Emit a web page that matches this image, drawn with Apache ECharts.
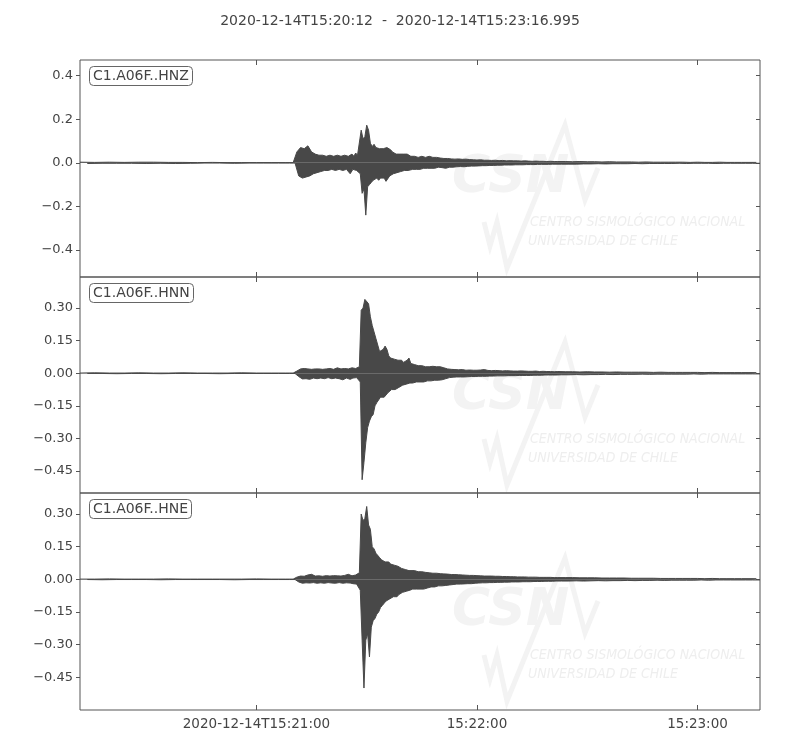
<!DOCTYPE html>
<html><head><meta charset="utf-8">
<script src="https://cdn.jsdelivr.net/npm/echarts@6/dist/echarts.min.js"></script>
<style>html,body{margin:0;padding:0;background:#fff}#c{width:800px;height:750px}</style>
</head><body><div id="c"></div>
<script>
// ---------- data ----------
const titleText = '2020-12-14T15:20:12  -  2020-12-14T15:23:16.995';
const traceNames = ['C1.A06F..HNZ', 'C1.A06F..HNN', 'C1.A06F..HNE'];
const xMax = 184.995;                       // seconds after 15:20:12
const xTickValues = [48, 108, 168];
const xTickLabels = ['2020-12-14T15:21:00', '15:22:00', '15:23:00'];
const yTicksHNZ = [-0.4, -0.2, 0, 0.2, 0.4];
const yTicksHNN = [-0.45, -0.30, -0.15, 0, 0.15, 0.30];
const yTicksHNE = [-0.45, -0.30, -0.15, 0, 0.15, 0.30];
const yRangeHNZ = [-0.524, 0.472];
const yRangeHNN = [-0.551, 0.443];
const yRangeHNE = [-0.601, 0.397];

// sample times (s after start)
const tSec = [
  0,4,8,12,16,20,24,28,32,36,40,44,48,52,56,58,
  59,60,61,62,63,64,65,66,67,68,69,70,71,72,73,74,
  74.5,75,75.5,76,76.5,77,77.5,78,78.5,79,79.5,80,80.5,81,81.5,82,82.5,83,83.5,84,84.5,85,85.5,86,86.5,87,87.5,88,88.5,89,89.5,
  90,91,92,93,94,95,96,97,98,99,100,101,102,103,104,105,106,107,108,109,110,111,112,113,114,115,116,117,118,119,120,121,122,123,124,125,126,127,128,129,130,
  132,134,136,138,140,142,144,146,148,150,152,154,156,158,160,162,164,166,168,170,172,174,176,178,180,182,184
];

// upper / lower envelope values
const hnzUpper = [
  0.003,0.002,0.003,0.002,0.003,0.003,0.002,0.002,0.001,0.002,0.001,0.001,0.001,0.001,0.001,0.001,
  0.05,0.07,0.065,0.078,0.05,0.04,0.035,0.035,0.03,0.035,0.03,0.035,0.03,0.035,0.03,0.04,
  0.03,0.045,0.035,0.04,0.15,0.11,0.12,0.173,0.15,0.09,0.075,0.085,0.07,0.075,0.065,0.07,0.065,0.065,0.07,0.075,0.06,0.05,0.045,0.04,0.045,0.04,0.035,0.04,0.035,0.04,0.035,
  0.03,0.03,0.025,0.03,0.025,0.03,0.025,0.025,0.022,0.02,0.02,0.018,0.017,0.018,0.016,0.017,0.015,0.014,0.013,0.014,0.012,0.012,0.011,0.012,0.01,0.011,0.009,0.01,0.009,0.009,0.008,0.009,0.008,0.007,0.008,0.007,0.007,0.006,0.007,0.006,0.006,
  0.006,0.005,0.006,0.005,0.005,0.004,0.005,0.004,0.004,0.004,0.003,0.004,0.003,0.003,0.003,0.003,0.003,0.002,0.003,0.002,0.002,0.003,0.002,0.002,0.002,0.002,0.002
];
const hnzLower = [
  -0.003,-0.002,-0.002,-0.002,-0.003,-0.002,-0.003,-0.002,-0.001,-0.001,-0.002,-0.001,-0.001,-0.001,-0.001,-0.001,
  -0.06,-0.07,-0.065,-0.06,-0.05,-0.045,-0.04,-0.035,-0.035,-0.03,-0.035,-0.03,-0.035,-0.03,-0.05,-0.03,
  -0.03,-0.035,-0.03,-0.05,-0.14,-0.12,-0.24,-0.11,-0.10,-0.09,-0.08,-0.075,-0.07,-0.08,-0.07,-0.075,-0.07,-0.085,-0.09,-0.06,-0.055,-0.05,-0.045,-0.045,-0.04,-0.04,-0.04,-0.035,-0.035,-0.035,-0.03,
  -0.03,-0.03,-0.03,-0.025,-0.025,-0.025,-0.025,-0.02,-0.022,-0.025,-0.02,-0.02,-0.018,-0.017,-0.018,-0.016,-0.015,-0.015,-0.014,-0.013,-0.013,-0.012,-0.012,-0.011,-0.011,-0.01,-0.01,-0.01,-0.009,-0.009,-0.009,-0.008,-0.008,-0.008,-0.007,-0.007,-0.007,-0.007,-0.006,-0.006,-0.006,
  -0.006,-0.006,-0.005,-0.005,-0.004,-0.005,-0.004,-0.004,-0.004,-0.003,-0.004,-0.003,-0.003,-0.003,-0.003,-0.002,-0.003,-0.002,-0.002,-0.002,-0.003,-0.002,-0.002,-0.002,-0.002,-0.002,-0.002
];
const hnnUpper = [
  0.001,0.002,0.001,0.001,0.002,0.001,0.001,0.002,0.001,0.001,0.001,0.002,0.001,0.001,0.001,0.001,
  0.01,0.02,0.022,0.02,0.018,0.02,0.02,0.018,0.02,0.022,0.018,0.025,0.02,0.022,0.02,0.025,
  0.02,0.022,0.025,0.03,0.29,0.30,0.34,0.335,0.32,0.26,0.22,0.19,0.16,0.13,0.10,0.095,0.11,0.125,0.11,0.08,0.07,0.075,0.065,0.06,0.06,0.055,0.06,0.05,0.055,0.06,0.07,
  0.045,0.04,0.035,0.035,0.03,0.03,0.032,0.03,0.03,0.025,0.02,0.018,0.017,0.016,0.017,0.014,0.015,0.014,0.014,0.015,0.017,0.013,0.012,0.013,0.012,0.011,0.012,0.011,0.01,0.01,0.011,0.01,0.009,0.009,0.01,0.008,0.009,0.008,0.008,0.007,0.008,
  0.007,0.007,0.006,0.007,0.006,0.006,0.005,0.006,0.005,0.005,0.005,0.005,0.004,0.005,0.004,0.004,0.004,0.004,0.004,0.003,0.004,0.003,0.003,0.003,0.003,0.003,0.003
];
const hnnLower = [
  -0.001,-0.001,-0.002,-0.001,-0.001,-0.002,-0.001,-0.001,-0.001,-0.002,-0.001,-0.001,-0.001,-0.001,-0.001,-0.001,
  -0.015,-0.026,-0.025,-0.028,-0.022,-0.025,-0.022,-0.025,-0.02,-0.025,-0.022,-0.025,-0.03,-0.022,-0.028,-0.022,
  -0.025,-0.02,-0.025,-0.04,-0.49,-0.41,-0.32,-0.25,-0.22,-0.20,-0.19,-0.15,-0.135,-0.14,-0.11,-0.105,-0.11,-0.10,-0.09,-0.085,-0.075,-0.07,-0.075,-0.07,-0.065,-0.06,-0.055,-0.055,-0.05,-0.05,-0.045,
  -0.045,-0.04,-0.04,-0.04,-0.035,-0.035,-0.032,-0.032,-0.03,-0.025,-0.02,-0.018,-0.017,-0.017,-0.017,-0.016,-0.015,-0.015,-0.014,-0.014,-0.014,-0.013,-0.013,-0.012,-0.012,-0.012,-0.011,-0.011,-0.011,-0.01,-0.01,-0.01,-0.01,-0.009,-0.009,-0.009,-0.008,-0.008,-0.008,-0.008,-0.007,
  -0.007,-0.006,-0.007,-0.006,-0.006,-0.005,-0.006,-0.005,-0.005,-0.005,-0.004,-0.005,-0.004,-0.004,-0.004,-0.004,-0.004,-0.003,-0.004,-0.003,-0.003,-0.003,-0.003,-0.003,-0.003,-0.003,-0.003
];
const hneUpper = [
  0.001,0.001,0.002,0.001,0.001,0.001,0.002,0.001,0.001,0.001,0.001,0.001,0.002,0.001,0.001,0.001,
  0.01,0.015,0.014,0.02,0.023,0.015,0.016,0.014,0.017,0.015,0.017,0.016,0.015,0.018,0.023,0.016,
  0.018,0.02,0.018,0.03,0.30,0.27,0.28,0.335,0.25,0.23,0.15,0.14,0.12,0.12,0.10,0.09,0.085,0.08,0.075,0.08,0.07,0.07,0.065,0.065,0.06,0.055,0.05,0.05,0.045,0.045,0.04,
  0.04,0.04,0.035,0.035,0.032,0.03,0.028,0.028,0.026,0.025,0.024,0.022,0.022,0.021,0.02,0.019,0.018,0.018,0.017,0.016,0.015,0.015,0.015,0.014,0.014,0.013,0.013,0.012,0.012,0.011,0.011,0.011,0.01,0.01,0.01,0.009,0.009,0.009,0.009,0.008,0.008,
  0.008,0.008,0.007,0.007,0.007,0.006,0.006,0.006,0.006,0.005,0.005,0.005,0.005,0.004,0.004,0.004,0.004,0.004,0.004,0.003,0.004,0.003,0.003,0.003,0.003,0.003,0.003
];
const hneLower = [
  -0.001,-0.002,-0.001,-0.001,-0.001,-0.002,-0.001,-0.001,-0.001,-0.001,-0.002,-0.001,-0.001,-0.001,-0.001,-0.001,
  -0.012,-0.018,-0.016,-0.017,-0.015,-0.018,-0.016,-0.018,-0.015,-0.017,-0.018,-0.015,-0.018,-0.016,-0.017,-0.02,
  -0.016,-0.022,-0.02,-0.05,-0.28,-0.50,-0.28,-0.25,-0.357,-0.22,-0.19,-0.18,-0.16,-0.15,-0.13,-0.12,-0.11,-0.10,-0.095,-0.09,-0.085,-0.08,-0.075,-0.08,-0.07,-0.065,-0.06,-0.065,-0.055,-0.05,-0.05,
  -0.045,-0.045,-0.045,-0.045,-0.04,-0.035,-0.035,-0.03,-0.03,-0.028,-0.026,-0.024,-0.022,-0.022,-0.021,-0.02,-0.02,-0.018,-0.017,-0.016,-0.016,-0.015,-0.015,-0.014,-0.014,-0.013,-0.013,-0.012,-0.012,-0.012,-0.011,-0.011,-0.011,-0.01,-0.01,-0.01,-0.009,-0.009,-0.009,-0.008,-0.008,
  -0.008,-0.007,-0.008,-0.007,-0.006,-0.007,-0.006,-0.006,-0.005,-0.006,-0.005,-0.005,-0.004,-0.005,-0.004,-0.004,-0.004,-0.004,-0.003,-0.004,-0.003,-0.003,-0.003,-0.003,-0.003,-0.003,-0.003
];

// ---------- build ----------
function upperPts(up) {
  return tSec.map((t, i) => [t, up[i]]);
}
function lowerPts(lo) {
  return tSec.map((t, i) => {
    const step = i < tSec.length - 1 ? tSec[i + 1] - tSec[i] : tSec[i] - tSec[i - 1];
    return [t + step / 2, lo[i]];
  });
}
const traces = [
  { up: hnzUpper, lo: hnzLower, ticks: yTicksHNZ, range: yRangeHNZ, dec: 1 },
  { up: hnnUpper, lo: hnnLower, ticks: yTicksHNN, range: yRangeHNN, dec: 2 },
  { up: hneUpper, lo: hneLower, ticks: yTicksHNE, range: yRangeHNE, dec: 2 }
];
const FONT = 'DejaVu Sans';
const TXT = '#444';
const FRAME = '#555';
const WAVE = '#484848';
const gridTops = [60, 277, 493];
const gridHeights = [217, 216, 217];
const L = 80, W = 680;

const grid = [], xAxis = [], yAxis = [], series = [], titles = [], graphic = [];
titles.push({ text: titleText, left: 'center', top: 14, padding: 0,
  textStyle: { fontFamily: FONT, fontSize: 14, fontWeight: 'normal', color: TXT } });

traces.forEach((tr, i) => {
  grid.push({ left: L, top: gridTops[i], width: W, height: gridHeights[i], show: true,
    borderColor: FRAME, borderWidth: 1, backgroundColor: 'transparent', containLabel: false });
  const last = i === traces.length - 1;
  xAxis.push({ type: 'value', gridIndex: i, min: 0, max: xMax, position: 'bottom',
    axisLine: { show: false, onZero: false }, splitLine: { show: false },
    axisTick: { show: true, inside: true, length: 5, customValues: xTickValues, lineStyle: { color: FRAME } },
    axisLabel: { show: last, customValues: xTickValues, margin: 7, color: TXT, fontFamily: FONT, fontSize: 13.5,
      formatter: v => xTickLabels[xTickValues.indexOf(v)] || '' } });
  yAxis.push({ type: 'value', gridIndex: i, min: tr.range[0], max: tr.range[1], position: 'left',
    axisLine: { show: false, onZero: false }, splitLine: { show: false },
    axisTick: { show: true, inside: false, length: 4, customValues: tr.ticks, lineStyle: { color: FRAME } },
    axisLabel: { show: true, customValues: tr.ticks, margin: 7, color: TXT, fontFamily: FONT, fontSize: 13,
      formatter: v => v.toFixed(tr.dec).replace('-', '\u2212') } });
  [upperPts(tr.up), lowerPts(tr.lo)].forEach(pts => {
    series.push({ type: 'line', xAxisIndex: i, yAxisIndex: i, data: pts,
      showSymbol: false, symbol: 'none', animation: false, sampling: null, z: 3,
      lineStyle: { color: WAVE, width: 1 },
      areaStyle: { color: WAVE, opacity: 1, origin: 0 } });
  });
  titles.push({ text: traceNames[i], left: 89, top: gridTops[i] + 6, padding: [3, 4, 3, 4],
    borderColor: '#666', borderWidth: 1, borderRadius: 4, backgroundColor: '#fff', z: 10,
    textStyle: { fontFamily: FONT, fontSize: 14, fontWeight: 'normal', color: TXT } });
  // faint CSN watermark
  const o = gridTops[i];
  graphic.push({ type: 'polyline', z: -1, silent: true,
    shape: { points: [[484, o + 162], [490, o + 186], [497, o + 162], [507, o + 208], [565, o + 65], [585, o + 140], [598, o + 108]] },
    style: { stroke: '#f3f3f3', lineWidth: 5, fill: null } });
  graphic.push({ type: 'text', z: -1, silent: true, x: 452, y: o + 92,
    style: { text: 'CSN', font: 'italic bold 52px "DejaVu Sans"', fill: '#f3f3f3', verticalAlign: 'top' } });
  graphic.push({ type: 'text', z: -1, silent: true, x: 530, y: o + 155,
    style: { text: 'CENTRO SISMOLÓGICO NACIONAL', font: 'italic 14px "DejaVu Sans Condensed"', fill: '#eeeeee', verticalAlign: 'top' } });
  graphic.push({ type: 'text', z: -1, silent: true, x: 528, y: o + 174,
    style: { text: 'UNIVERSIDAD DE CHILE', font: 'italic 14px "DejaVu Sans Condensed"', fill: '#eeeeee', verticalAlign: 'top' } });
});
traces.forEach((tr, i) => {
  xAxis.push({ type: 'value', gridIndex: i, min: 0, max: xMax, position: 'top',
    axisLine: { show: false, onZero: false }, splitLine: { show: false }, axisLabel: { show: false },
    axisTick: { show: true, inside: true, length: 5, customValues: xTickValues, lineStyle: { color: FRAME } } });
  yAxis.push({ type: 'value', gridIndex: i, min: tr.range[0], max: tr.range[1], position: 'right',
    axisLine: { show: false, onZero: false }, splitLine: { show: false }, axisLabel: { show: false },
    axisTick: { show: true, inside: true, length: 4, customValues: tr.ticks, lineStyle: { color: FRAME } } });
});

const chart = echarts.init(document.getElementById('c'), null, { renderer: 'canvas' });
chart.setOption({ animation: false, backgroundColor: '#fff', title: titles, grid, xAxis, yAxis, series, graphic });
</script>
</body></html>
